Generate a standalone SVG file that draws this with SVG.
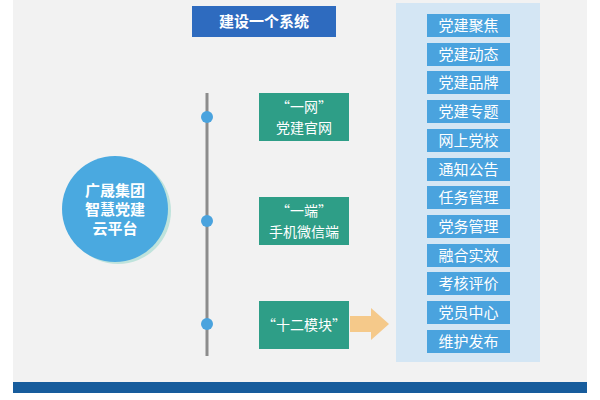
<svg xmlns="http://www.w3.org/2000/svg" width="600" height="400" viewBox="0 0 600 400">
<style>
.t{font-family:"Noto Sans CJK SC",sans-serif;fill:#fff;text-anchor:middle}
.m{fill:#4aa3de}
.g{fill:#2e9e87}
.d{fill:#4aa3de}
</style>
<rect width="600" height="400" fill="#fff"/>
<rect x="13" y="0" width="574" height="382" fill="#f2f2f2"/>
<rect x="13" y="382" width="574" height="11" fill="#175c9c"/>
<g id="title"><rect x="192" y="6" width="144" height="31" fill="#2e6bbf"/><text class="t" x="264" y="27" font-size="15" font-weight="bold">建设一个系统</text></g>
<g id="panel"><rect x="396" y="3" width="144" height="359" fill="#d4e6f4"/></g>
<g id="modules" font-size="15">
<rect class="m" x="427" y="14" width="83" height="23"/><text class="t" x="468.5" y="31">党建聚焦</text>
<rect class="m" x="427" y="43" width="83" height="23"/><text class="t" x="468.5" y="60">党建动态</text>
<rect class="m" x="427" y="71" width="83" height="23"/><text class="t" x="468.5" y="88">党建品牌</text>
<rect class="m" x="427" y="100" width="83" height="23"/><text class="t" x="468.5" y="117">党建专题</text>
<rect class="m" x="427" y="129" width="83" height="23"/><text class="t" x="468.5" y="146">网上党校</text>
<rect class="m" x="427" y="158" width="83" height="23"/><text class="t" x="468.5" y="175">通知公告</text>
<rect class="m" x="427" y="186" width="83" height="23"/><text class="t" x="468.5" y="203">任务管理</text>
<rect class="m" x="427" y="215" width="83" height="23"/><text class="t" x="468.5" y="232">党务管理</text>
<rect class="m" x="427" y="244" width="83" height="23"/><text class="t" x="468.5" y="261">融合实效</text>
<rect class="m" x="427" y="272" width="83" height="23"/><text class="t" x="468.5" y="289">考核评价</text>
<rect class="m" x="427" y="301" width="83" height="23"/><text class="t" x="468.5" y="318">党员中心</text>
<rect class="m" x="427" y="330" width="83" height="23"/><text class="t" x="468.5" y="347">维护发布</text>
</g>
<g id="connectors">
<line x1="207" y1="93" x2="207" y2="356" stroke="#8c8c8c" stroke-width="3"/>
<circle class="d" cx="207" cy="117" r="6"/><circle class="d" cx="207" cy="221" r="6"/><circle class="d" cx="207" cy="324" r="6"/>
<polygon points="350,316 371,316 371,308 389,324 371,340 371,332 350,332" fill="#f5c98a"/>
</g>
<g id="hub"><circle cx="118" cy="211" r="53" fill="#bfe3dc"/><circle cx="115" cy="209" r="53" fill="#4aa9e0"/>
<text class="t" x="115" y="196" font-size="15" font-weight="bold">广晟集团</text>
<text class="t" x="115" y="215" font-size="15" font-weight="bold">智慧党建</text>
<text class="t" x="115" y="234" font-size="15" font-weight="bold">云平台</text></g>
<g id="web"><rect class="g" x="259" y="93" width="90" height="48"/><text class="t" x="304" y="112" font-size="14">“一网”</text><text class="t" x="304" y="133" font-size="14">党建官网</text></g>
<g id="mobile"><rect class="g" x="259" y="197" width="90" height="48"/><text class="t" x="304" y="216" font-size="14">“一端”</text><text class="t" x="304" y="237" font-size="14">手机微信端</text></g>
<g id="twelve"><rect class="g" x="259" y="301" width="90" height="48"/><text class="t" x="304" y="330" font-size="14">“十二模块”</text></g>
</svg>
